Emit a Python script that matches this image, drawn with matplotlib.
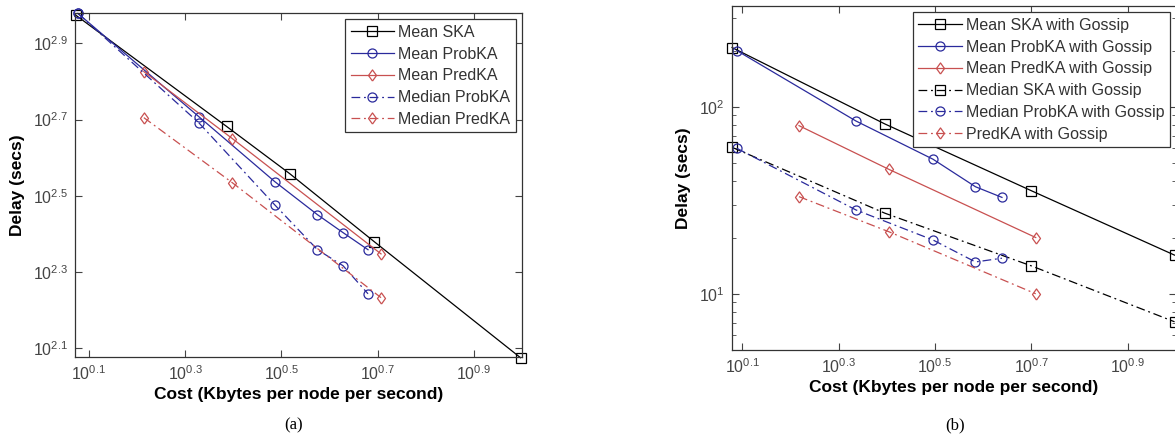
import matplotlib
matplotlib.use("Agg")
import matplotlib.pyplot as plt
from matplotlib.ticker import FixedLocator, LogLocator, NullFormatter

plt.rcParams['font.family'] = ['Liberation Sans', 'DejaVu Sans']
plt.rcParams['mathtext.fontset'] = 'custom'
plt.rcParams['mathtext.rm'] = 'Liberation Sans'

# ---- panel (a): without gossip ----
a_ska_x = [1.183, 2.432, 3.289, 4.932, 9.93]
a_ska_y = [941.9, 480.8, 361.4, 239.3, 118.6]
a_prob_x = [1.194, 2.128, 3.062, 3.758, 4.246, 4.786]
a_prob_mean = [952.8, 510.5, 344.4, 281.8, 252.9, 228.0]
a_prob_med = [952.8, 492.0, 299.2, 228.0, 207.0, 174.6]
a_pred_x = [1.637, 2.500, 5.093]
a_pred_mean = [669.9, 446.7, 222.3]
a_pred_med = [507.0, 342.0, 170.6]
a_labels = ['Mean SKA', 'Mean ProbKA', 'Mean PredKA', 'Median ProbKA', 'Median PredKA']

# ---- panel (b): with gossip ----
b_ska_x = [1.20, 2.489, 5.012, 9.93]
b_ska_mean = [208.0, 81.1, 35.6, 16.1]
b_ska_med = [60.8, 27.0, 14.1, 7.08]
b_prob_x = [1.227, 2.168, 3.133, 3.837, 4.355]
b_prob_mean = [200.4, 84.1, 52.5, 37.4, 32.8]
b_prob_med = [60.1, 28.1, 19.4, 14.8, 15.5]
b_pred_x = [1.652, 2.535, 5.117]
b_pred_mean = [79.4, 46.4, 20.0]
b_pred_med = [33.1, 21.5, 10.0]
b_labels = ['Mean SKA with Gossip', 'Mean ProbKA with Gossip', 'Mean PredKA with Gossip',
            'Median SKA with Gossip', 'Median ProbKA with Gossip', 'PredKA with Gossip']

xtick_exp = [0.1, 0.3, 0.5, 0.7, 0.9]
a_ytick_exp = [2.1, 2.3, 2.5, 2.7, 2.9]

K = 'black'
B = '#2a2a9c'
R = '#c85050'
DD = (0, (7, 3, 1.5, 3))
DIA = [(0, -1), (0.72, 0), (0, 1), (-0.72, 0), (0, -1)]
mk = dict(markerfacecolor='none', markersize=6.5, markeredgewidth=0.9)
mkd = dict(markerfacecolor='none', markersize=8, markeredgewidth=0.9)
lw = 0.9
tickcol = '#444444'

fig = plt.figure(figsize=(11.75, 4.42), dpi=100)
ax1 = fig.add_axes([75 / 1175, 85 / 442, 447 / 1175, 344 / 442])
ax2 = fig.add_axes([732 / 1175, 92 / 442, 444 / 1175, 344 / 442])

ax1.plot(a_ska_x, a_ska_y, '-', color=K, marker='s', lw=lw, label=a_labels[0], clip_on=False, **mk)
ax1.plot(a_prob_x, a_prob_mean, '-', color=B, marker='o', lw=lw, label=a_labels[1], clip_on=False, **mk)
ax1.plot(a_pred_x, a_pred_mean, '-', color=R, marker=DIA, lw=lw, label=a_labels[2], **mkd)
ax1.plot(a_prob_x, a_prob_med, linestyle=DD, color=B, marker='o', lw=lw, label=a_labels[3], clip_on=False, **mk)
ax1.plot(a_pred_x, a_pred_med, linestyle=DD, color=R, marker=DIA, lw=lw, label=a_labels[4], **mkd)

ax2.plot(b_ska_x, b_ska_mean, '-', color=K, marker='s', lw=lw, label=b_labels[0], clip_on=False, **mk)
ax2.plot(b_prob_x, b_prob_mean, '-', color=B, marker='o', lw=lw, label=b_labels[1], **mk)
ax2.plot(b_pred_x, b_pred_mean, '-', color=R, marker=DIA, lw=lw, label=b_labels[2], **mkd)
ax2.plot(b_ska_x, b_ska_med, linestyle=DD, color=K, marker='s', lw=lw, label=b_labels[3], clip_on=False, **mk)
ax2.plot(b_prob_x, b_prob_med, linestyle=DD, color=B, marker='o', lw=lw, label=b_labels[4], **mk)
ax2.plot(b_pred_x, b_pred_med, linestyle=DD, color=R, marker=DIA, lw=lw, label=b_labels[5], **mkd)

for ax in (ax1, ax2):
    ax.set_xscale('log')
    ax.set_yscale('log')
    ax.set_xlim(10 ** 0.071, 10 ** 1.0)
    ax.xaxis.set_major_locator(FixedLocator([10 ** e for e in xtick_exp]))
    ax.xaxis.set_minor_locator(FixedLocator([]))
    ax.set_xticklabels(['$10^{%.1f}$' % e for e in xtick_exp])
    ax.tick_params(which='both', direction='in', top=True, right=True,
                   labelsize=11.5, colors=tickcol, labelcolor=tickcol)
    ax.tick_params(which='major', length=5, pad=5)
    ax.tick_params(which='minor', length=3)
    for s in ax.spines.values():
        s.set_linewidth(0.9)
        s.set_color('#333333')
    ax.set_xlabel('Cost (Kbytes per node per second)', fontsize=12.5, fontweight='bold', labelpad=3)
    ax.set_ylabel('Delay (secs)', fontsize=12.5, fontweight='bold', labelpad=6)

ax1.set_ylim(10 ** 2.076, 10 ** 2.98)
ax1.yaxis.set_major_locator(FixedLocator([10 ** e for e in a_ytick_exp]))
ax1.yaxis.set_minor_locator(FixedLocator([]))
ax1.set_yticklabels(['$10^{%.1f}$' % e for e in a_ytick_exp])

ax2.set_xlim(10 ** 0.079, 10 ** 1.0)
ax2.set_ylim(5, 347)
ax2.yaxis.set_major_locator(FixedLocator([10, 100]))
ax2.yaxis.set_minor_locator(LogLocator(base=10, subs=range(2, 10)))
ax2.yaxis.set_minor_formatter(NullFormatter())
ax2.set_yticklabels(['$10^{1}$', '$10^{2}$'])

legkw = dict(loc='upper right', fontsize=11.5, fancybox=False, framealpha=1,
             edgecolor='#333333', handlelength=2.7, labelspacing=0.42,
             borderpad=0.35, handletextpad=0.25, borderaxespad=0.4)
l1 = ax1.legend(**legkw)
l2 = ax2.legend(**legkw)
for l in (l1, l2):
    l.get_frame().set_linewidth(0.9)
    for t in l.get_texts():
        t.set_color('#333333')

fig.text(294 / 1175, 1 - 425 / 442, '(a)', ha='center', va='center', fontsize=12,
         family='Liberation Serif')
fig.text(955 / 1175, 1 - 425 / 442, '(b)', ha='center', va='center', fontsize=12,
         family='Liberation Serif')

fig.savefig('out.png', dpi=100)
